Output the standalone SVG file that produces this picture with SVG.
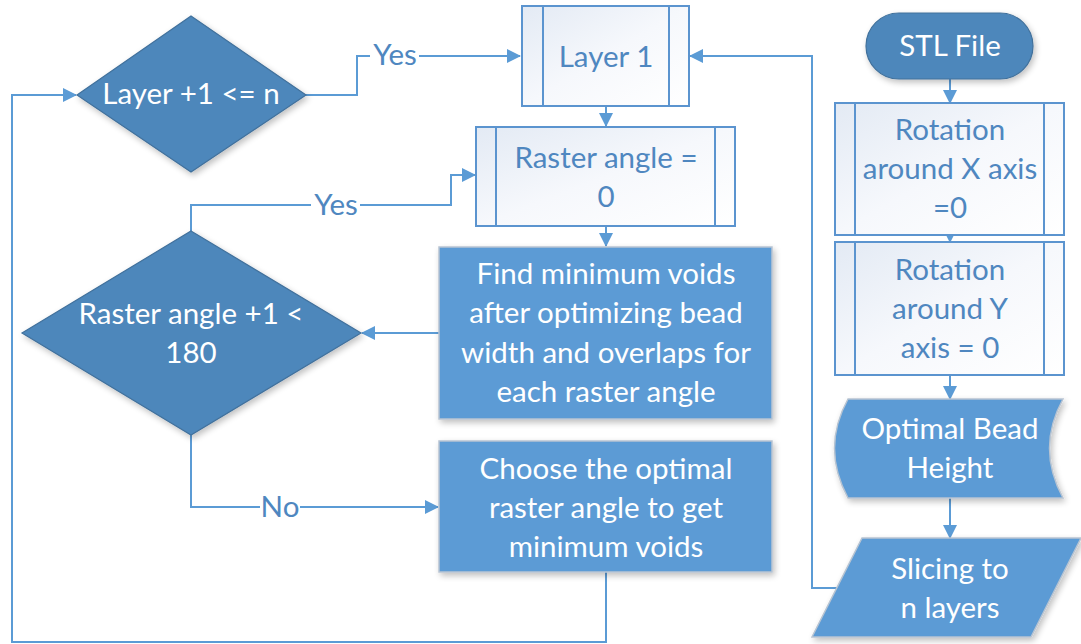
<svg xmlns="http://www.w3.org/2000/svg" width="1081" height="644" viewBox="0 0 1081 644">
<defs>
<style>
.conn{fill:none;stroke:#5b9bd5;stroke-width:2}
.dark{fill:#4d87bb;stroke:#41719c;stroke-width:1.2}
.med{fill:#5b9bd5;stroke:#b8c4d2;stroke-width:1.5}
.pp{fill:url(#ppg);stroke:#5b94cf;stroke-width:2}
.ppl{fill:none;stroke:#5b94cf;stroke-width:2}
.tw{font-family:Lato,"Liberation Sans",sans-serif;font-size:29.5px;fill:#ffffff;text-anchor:middle}
.tb{font-family:Lato,"Liberation Sans",sans-serif;font-size:29.5px;fill:#4f87c0;text-anchor:middle}
.lbl{font-family:Lato,"Liberation Sans",sans-serif;font-size:29.5px;fill:#4f87c0;text-anchor:middle}
</style>
<linearGradient id="ppg" x1="0" y1="0" x2="1" y2="1">
<stop offset="0" stop-color="#e3eaf4"/>
<stop offset="0.5" stop-color="#f6f8fc"/>
<stop offset="1" stop-color="#ffffff"/>
</linearGradient>
<filter id="sh" x="-10%" y="-10%" width="125%" height="130%">
<feGaussianBlur in="SourceAlpha" stdDeviation="3"/>
<feOffset dx="2" dy="3" result="b"/>
<feComponentTransfer><feFuncA type="linear" slope="0.25"/></feComponentTransfer>
<feMerge><feMergeNode/><feMergeNode in="SourceGraphic"/></feMerge>
</filter>
<marker id="ah" viewBox="0 0 14 14" refX="13" refY="7" markerWidth="14" markerHeight="14" markerUnits="userSpaceOnUse" orient="auto">
<path d="M0,0 L14,7 L0,14 Z" fill="#5b9bd5"/>
</marker>
</defs>
<rect width="1081" height="644" fill="#ffffff"/>

<g id="connectors">
<path class="conn" d="M306,95 H357 V56 H520" marker-end="url(#ah)"/>
<path class="conn" d="M606,106 V126" marker-end="url(#ah)"/>
<path class="conn" d="M837,588 H812 V56 H690" marker-end="url(#ah)"/>
<path class="conn" d="M191,231 V205 H451 V175 H475" marker-end="url(#ah)"/>
<path class="conn" d="M606,226 V246" marker-end="url(#ah)"/>
<path class="conn" d="M439,333 H362" marker-end="url(#ah)"/>
<path class="conn" d="M191,435 V507 H438" marker-end="url(#ah)"/>
<path class="conn" d="M606,572 V642 H12 V95 H76" marker-end="url(#ah)"/>
<path class="conn" d="M950,79 V103" marker-end="url(#ah)"/>
<path class="conn" d="M950,228 V242" marker-end="url(#ah)"/>
<path class="conn" d="M950,375 V399" marker-end="url(#ah)"/>
<path class="conn" d="M950,498 V538" marker-end="url(#ah)"/>
<rect x="370" y="40" width="49" height="30" fill="#ffffff"/>
<text class="lbl" x="395" y="65">Yes</text>
<rect x="311" y="190" width="49" height="30" fill="#ffffff"/>
<text class="lbl" x="336" y="215">Yes</text>
<rect x="260" y="492" width="40" height="30" fill="#ffffff"/>
<text class="lbl" x="280" y="517">No</text>
</g>

<g id="decision-layer">
<polygon class="dark" filter="url(#sh)" points="191,16 306,95 191,172 77,95"/>
<text class="tw" x="191" y="104">Layer +1 &lt;= n</text>
</g>

<g id="layer1">
<rect class="pp" x="522" y="6" width="167" height="100"/>
<line class="ppl" x1="543" y1="6" x2="543" y2="106"/>
<line class="ppl" x1="669" y1="6" x2="669" y2="106"/>
<text class="tb" x="606" y="67">Layer 1</text>
</g>

<g id="raster-angle-0">
<rect class="pp" x="476" y="127" width="259" height="99"/>
<line class="ppl" x1="496" y1="127" x2="496" y2="226"/>
<line class="ppl" x1="715" y1="127" x2="715" y2="226"/>
<text class="tb" x="606" y="168">Raster angle =</text>
<text class="tb" x="606" y="207">0</text>
</g>

<g id="decision-raster">
<polygon class="dark" filter="url(#sh)" points="191,231 361,333 191,435 22,333"/>
<text class="tw" x="191" y="324">Raster angle +1 &lt;</text>
<text class="tw" x="191" y="363">180</text>
</g>

<g id="find-min-voids">
<rect class="med" filter="url(#sh)" x="439" y="247" width="333" height="172"/>
<text class="tw" x="606" y="284">Find minimum voids</text>
<text class="tw" x="606" y="323">after optimizing bead</text>
<text class="tw" x="606" y="363">width and overlaps for</text>
<text class="tw" x="606" y="402">each raster angle</text>
</g>

<g id="choose-optimal">
<rect class="med" filter="url(#sh)" x="439" y="441" width="333" height="131"/>
<text class="tw" x="606" y="479">Choose the optimal</text>
<text class="tw" x="606" y="518">raster angle to get</text>
<text class="tw" x="606" y="557">minimum voids</text>
</g>

<g id="stl-file">
<rect class="dark" filter="url(#sh)" x="866" y="13" width="167" height="66" rx="33" ry="33"/>
<text class="tw" x="950" y="56">STL File</text>
</g>

<g id="rotation-x">
<rect class="pp" x="835" y="103" width="229" height="132"/>
<line class="ppl" x1="855" y1="103" x2="855" y2="235"/>
<line class="ppl" x1="1044" y1="103" x2="1044" y2="235"/>
<text class="tb" x="950" y="140">Rotation</text>
<text class="tb" x="950" y="179">around X axis</text>
<text class="tb" x="950" y="218">=0</text>
</g>

<g id="rotation-y">
<rect class="pp" x="835" y="242" width="229" height="133"/>
<line class="ppl" x1="855" y1="242" x2="855" y2="375"/>
<line class="ppl" x1="1044" y1="242" x2="1044" y2="375"/>
<text class="tb" x="950" y="280">Rotation</text>
<text class="tb" x="950" y="319">around Y</text>
<text class="tb" x="950" y="358">axis = 0</text>
</g>

<g id="optimal-bead-height">
<path class="med" filter="url(#sh)" d="M848,399 H1063 Q1036,448 1063,498 H848 Q821,448 848,399 Z"/>
<text class="tw" x="950" y="439">Optimal Bead</text>
<text class="tw" x="950" y="478">Height</text>
</g>

<g id="slicing">
<polygon class="med" filter="url(#sh)" points="862,538 1081,538 1031,637 812,637"/>
<text class="tw" x="950" y="579">Slicing to</text>
<text class="tw" x="950" y="618">n layers</text>
</g>
</svg>
